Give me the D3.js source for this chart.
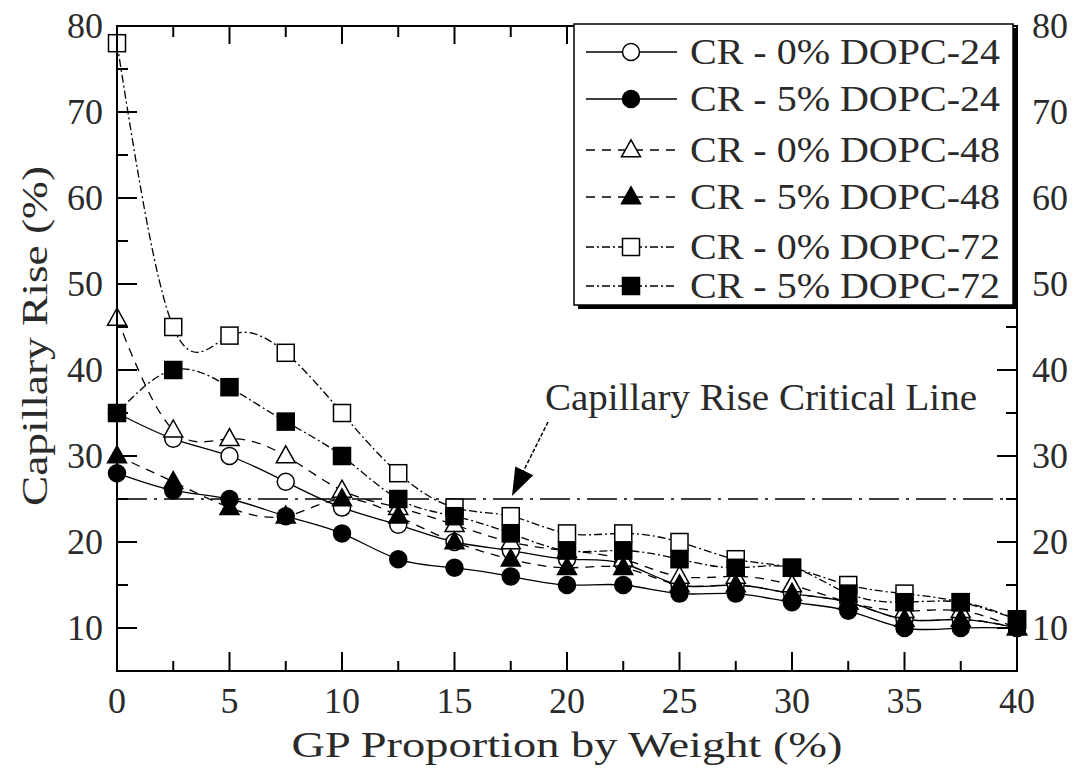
<!DOCTYPE html>
<html>
<head>
<meta charset="utf-8">
<script src="https://cdn.jsdelivr.net/npm/d3@7"></script>
<style>
  html, body { margin: 0; padding: 0; background: #fff; }
  svg { display: block; }
  text { font-family: "Liberation Serif", Tinos, "Times New Roman", Times, "Nimbus Roman", "Nimbus Roman No9 L", serif; fill: #2a2a2a; }
</style>
</head>
<body>
<svg id="chart" width="1076" height="769"></svg>
<script>
// ---------- data ----------
const gp = [0, 2.5, 5, 7.5, 10, 12.5, 15, 17.5, 20, 22.5, 25, 27.5, 30, 32.5, 35, 37.5, 40];
const cr0_24 = [35, 32, 30, 27, 24, 22, 20, 19, 18, 17.5, 15, 15, 14, 13, 11, 11, 10];
const cr5_24 = [28, 26, 25, 23, 21, 18, 17, 16, 15, 15, 14, 14, 13, 12, 10, 10, 10];
const cr0_48 = [46, 33, 32, 30, 26, 24, 22, 20, 19, 18, 16, 16, 15, 13, 12, 12, 10];
const cr5_48 = [30, 27, 24, 23, 25, 23, 20, 18, 17, 17, 15, 15, 14, 13, 11, 11, 10];
const cr0_72 = [78, 45, 44, 42, 35, 28, 24, 23, 21, 21, 20, 18, 17, 15, 14, 13, 11];
const cr5_72 = [35, 40, 38, 34, 30, 25, 23, 21, 19, 19, 18, 17, 17, 14, 13, 13, 11];
const seriesNames = ["CR - 0% DOPC-24", "CR - 5% DOPC-24", "CR - 0% DOPC-48",
                     "CR - 5% DOPC-48", "CR - 0% DOPC-72", "CR - 5% DOPC-72"];
const xTicks = [0, 5, 10, 15, 20, 25, 30, 35, 40];
const yTicks = [10, 20, 30, 40, 50, 60, 70, 80];
const criticalValue = 25;
const xTitle = "GP Proportion by Weight (%)";
const yTitle = "Capillary Rise (%)";
const criticalLabel = "Capillary Rise Critical Line";

// ---------- setup ----------
const svg = d3.select("#chart");
const L = 117, R = 1017, T = 26, B = 671;
const x = d3.scaleLinear().domain([0, 40]).range([L, R]);
const y = d3.scaleLinear().domain([5, 80]).range([B, T]);

const series = [
  {name: seriesNames[0], values: cr0_24, shape: "circle",   fill: "#fff", dash: null},
  {name: seriesNames[1], values: cr5_24, shape: "circle",   fill: "#000", dash: null},
  {name: seriesNames[2], values: cr0_48, shape: "triangle", fill: "#fff", dash: "9,7"},
  {name: seriesNames[3], values: cr5_48, shape: "triangle", fill: "#000", dash: "9,7"},
  {name: seriesNames[4], values: cr0_72, shape: "square",   fill: "#fff", dash: "8,3,2,3"},
  {name: seriesNames[5], values: cr5_72, shape: "square",   fill: "#000", dash: "8,3,2,3"}
];

function drawMarker(g, shape, fill, cx, cy) {
  if (shape === "circle") {
    g.append("circle").attr("cx", cx).attr("cy", cy).attr("r", 8.5)
      .attr("fill", fill).attr("stroke", "#000").attr("stroke-width", 1.5);
  } else if (shape === "square") {
    g.append("rect").attr("x", cx - 8.5).attr("y", cy - 8.5).attr("width", 17).attr("height", 17)
      .attr("fill", fill).attr("stroke", "#000").attr("stroke-width", 1.5);
  } else {
    const h = 17, w = 19;
    g.append("path")
      .attr("d", `M${cx},${cy - h * 0.6} L${cx + w / 2},${cy + h * 0.4} L${cx - w / 2},${cy + h * 0.4} Z`)
      .attr("fill", fill).attr("stroke", "#000").attr("stroke-width", 1.5);
  }
}

// ---------- critical line ----------
svg.append("line")
  .attr("x1", x(0)).attr("x2", x(40))
  .attr("y1", y(criticalValue)).attr("y2", y(criticalValue))
  .attr("stroke", "#000").attr("stroke-width", 1.3)
  .attr("stroke-dasharray", "30,7,3,7");

// ---------- series lines ----------
const line = d3.line().x((d, i) => x(gp[i])).y(d => y(d)).curve(d3.curveNatural);
const plot = svg.append("g");
series.forEach(s => {
  plot.append("path").datum(s.values)
    .attr("d", line)
    .attr("fill", "none").attr("stroke", "#000").attr("stroke-width", 1.3)
    .attr("stroke-dasharray", s.dash);
});
// ---------- markers ----------
series.forEach(s => {
  const g = plot.append("g");
  s.values.forEach((v, i) => drawMarker(g, s.shape, s.fill, x(gp[i]), y(v)));
});

// ---------- axes frame & ticks ----------
const axisG = svg.append("g");
axisG.append("rect").attr("x", L).attr("y", T).attr("width", R - L).attr("height", B - T)
  .attr("fill", "none").attr("stroke", "#000").attr("stroke-width", 2);

const xMinor = d3.range(0, 40.01, 2.5);
xMinor.forEach(v => {
  const major = v % 5 === 0;
  const len = major ? 19 : 10;
  axisG.append("line").attr("x1", x(v)).attr("x2", x(v)).attr("y1", B).attr("y2", B - len)
    .attr("stroke", "#000").attr("stroke-width", 2);
  axisG.append("line").attr("x1", x(v)).attr("x2", x(v)).attr("y1", T).attr("y2", T + (major ? 18 : 11))
    .attr("stroke", "#000").attr("stroke-width", 2);
});
const yMinor = d3.range(10, 80.01, 5);
yMinor.forEach(v => {
  const major = v % 10 === 0;
  const len = major ? 20 : 11;
  axisG.append("line").attr("x1", L).attr("x2", L + len).attr("y1", y(v)).attr("y2", y(v))
    .attr("stroke", "#000").attr("stroke-width", 2);
  axisG.append("line").attr("x1", R).attr("x2", R - len).attr("y1", y(v)).attr("y2", y(v))
    .attr("stroke", "#000").attr("stroke-width", 2);
});

// tick labels
xTicks.forEach(v => {
  svg.append("text").attr("x", x(v)).attr("y", 713).attr("text-anchor", "middle")
    .attr("font-size", 36).text(v);
});
yTicks.forEach(v => {
  svg.append("text").attr("x", 103).attr("y", y(v) + 12).attr("text-anchor", "end")
    .attr("font-size", 36).text(v);
  svg.append("text").attr("x", 1032).attr("y", y(v) + 12).attr("text-anchor", "start")
    .attr("font-size", 36).text(v);
});

// axis titles
svg.append("text").attr("x", 567).attr("y", 757).attr("text-anchor", "middle")
  .attr("font-size", 36).attr("textLength", 551).attr("lengthAdjust", "spacingAndGlyphs").text(xTitle);
svg.append("text").attr("transform", "translate(47,336) rotate(-90)").attr("text-anchor", "middle")
  .attr("font-size", 36).attr("textLength", 340).attr("lengthAdjust", "spacingAndGlyphs").text(yTitle);

// ---------- critical label & arrow ----------
svg.append("text").attr("x", 545).attr("y", 410).attr("font-size", 37)
  .attr("textLength", 432).attr("lengthAdjust", "spacingAndGlyphs").text(criticalLabel);
const ax1 = 548, ay1 = 422, ax2 = 512, ay2 = 496;
svg.append("line").attr("x1", ax1).attr("y1", ay1).attr("x2", 520).attr("y2", 478)
  .attr("stroke", "#000").attr("stroke-width", 1.5).attr("stroke-dasharray", "4,2");
{
  const ang = Math.atan2(ay2 - ay1, ax2 - ax1);
  const hl = 28, hw = 10;
  const bx = ax2 - hl * Math.cos(ang), by = ay2 - hl * Math.sin(ang);
  const px = -Math.sin(ang) * hw, py = Math.cos(ang) * hw;
  svg.append("path")
    .attr("d", `M${ax2},${ay2} L${bx + px},${by + py} L${bx - px},${by - py} Z`)
    .attr("fill", "#000");
}

// ---------- legend ----------
const lg = svg.append("g");
const lx = 574, ly = 24, lw = 439, lh = 281;
lg.append("rect").attr("x", lx + 4).attr("y", ly + 4).attr("width", lw).attr("height", lh).attr("fill", "#000");
lg.append("rect").attr("x", lx).attr("y", ly).attr("width", lw).attr("height", lh)
  .attr("fill", "#fff").attr("stroke", "#000").attr("stroke-width", 1.5);
const rowY = [52, 99, 150, 197, 247, 286];
series.forEach((s, i) => {
  const ry = rowY[i];
  lg.append("line").attr("x1", 586).attr("x2", 677).attr("y1", ry).attr("y2", ry)
    .attr("stroke", "#000").attr("stroke-width", 1.3).attr("stroke-dasharray", s.dash);
  drawMarker(lg, s.shape, s.fill, 631, ry);
  lg.append("text").attr("x", 690).attr("y", ry + 12).attr("font-size", 36)
    .attr("textLength", 310).attr("lengthAdjust", "spacingAndGlyphs").text(s.name);
});
</script>
</body>
</html>
